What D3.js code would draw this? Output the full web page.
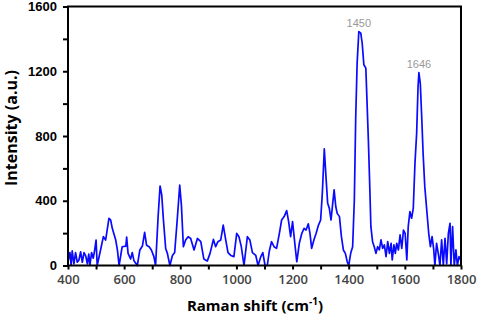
<!DOCTYPE html>
<head>
    <meta charset="utf-8">
    <script src="https://d3js.org/d3.v7.min.js"></script>
    <style>
        body { margin: 0; background: #fff; }
    </style>
</head>

<body>
    <div id="raman"></div>
</body>

<script>
    // Raman shift (cm-1)
    const shift = [401, 407, 411, 415, 421, 427, 433, 439, 445, 451, 457, 463, 469, 474, 478, 484, 490, 495, 500, 504,
        516, 526, 534, 546, 552, 558, 570, 576, 582, 593, 606, 609, 614, 623, 629, 635, 647, 656, 665, 673,
        680, 689, 697, 706, 712, 721, 728, 734, 740, 748, 754, 763, 772, 780, 789, 798, 804, 811, 819, 828,
        837, 849, 861, 873, 884, 896, 906, 918, 926, 934, 944, 953, 962, 970, 980, 991, 1001, 1009, 1017, 1027,
        1039, 1048, 1057, 1069, 1077, 1087, 1094, 1102, 1110, 1117, 1125, 1134, 1143, 1153, 1161, 1170, 1179, 1186, 1193, 1200,
        1208, 1215, 1224, 1233, 1241, 1248, 1256, 1262, 1268, 1276, 1284, 1292, 1300, 1306, 1313, 1319, 1325, 1331, 1337, 1343,
        1348, 1354, 1359, 1367, 1374, 1381, 1388, 1395, 1400, 1407, 1414, 1420, 1425, 1430, 1436, 1443, 1448, 1454, 1461, 1465,
        1470, 1475, 1479, 1485, 1491, 1497, 1503, 1509, 1515, 1521, 1527, 1533, 1539, 1545, 1551, 1555, 1561, 1566, 1571, 1577,
        1583, 1589, 1595, 1601, 1607, 1612, 1618, 1624, 1630, 1636, 1642, 1647, 1650, 1655, 1660, 1665, 1671, 1678, 1685, 1691,
        1697, 1703, 1707, 1713, 1719, 1725, 1731, 1737, 1743, 1749, 1755, 1761, 1764, 1770, 1776, 1782, 1787, 1793, 1799];

    // Intensity (a.u.)
    const intensity = [34, 80, 0, 90, 10, 80, 20, 34, 85, 20, 80, 60, 10, 70, 0, 80, 45, 95, 157, 0,
        96, 178, 157, 292, 280, 228, 157, 96, 0, 116, 120, 175, 75, 40, 80, 30, 0, 96, 120, 205,
        125, 116, 96, 55, 0, 302, 491, 435, 280, 105, 75, 0, 62, 80, 280, 496, 373, 116, 157, 178,
        167, 96, 167, 147, 40, 27, 75, 161, 116, 147, 157, 250, 157, 80, 62, 55, 198, 178, 120, 0,
        178, 157, 80, 62, 0, 55, 80, 0, 0, 88, 147, 116, 106, 199, 281, 302, 339, 271, 178, 271,
        137, 23, 137, 199, 230, 219, 257, 199, 106, 158, 199, 248, 281, 446, 720, 549, 384, 353, 281, 384,
        467, 363, 322, 302, 178, 96, 75, 22, 0, 75, 116, 405, 920, 1250, 1445, 1435, 1373, 1240, 1219, 1023,
        776, 487, 240, 147, 116, 75, 116, 96, 158, 106, 127, 55, 147, 75, 137, 34, 127, 75, 137, 96,
        189, 106, 219, 199, 34, 240, 333, 292, 353, 631, 817, 1105, 1191, 1125, 920, 693, 487, 343, 199, 116,
        178, 96, 0, 137, 75, 0, 158, 0, 168, 10, 199, 261, 0, 240, 0, 96, 0, 55, 34];

    // peak labels: text, position of the apex
    const peakLabels = ["1450", "1646"];
    const peakShift = [1436, 1650];
    const peakValue = [1445, 1191];

    const xTicks = d3.range(400, 1801, 100);
    const yTicks = d3.range(0, 1601, 200);

    const W = 477, H = 314;
    const margin = {top: 6.5, right: 16, bottom: 48.5, left: 68};

    const data = shift.map((s, i) => ({x: s, y: intensity[i]}));

    const svg = d3.select("#raman")
        .append("svg")
        .attr("width", W)
        .attr("height", H);

    const x = d3.scaleLinear()
        .domain([400, 1800])
        .range([margin.left, W - margin.right]);

    const y = d3.scaleLinear()
        .domain([0, 1600])
        .range([H - margin.bottom, margin.top]);

    // X axis
    const xAxis = svg.append("g")
        .attr("transform", `translate(0, ${H - margin.bottom})`)
        .call(d3.axisBottom(x)
            .tickValues(xTicks)
            .tickSize(4)
            .tickSizeOuter(0)
            .tickPadding(5)
            .tickFormat(d => d % 200 === 0 ? d : ""));
    xAxis.select(".domain").remove();
    xAxis.selectAll(".tick line").attr("stroke", "#000").attr("stroke-width", 2);
    xAxis.selectAll(".tick text")
        .style("font-family", "'Open Sans', sans-serif")
        .style("font-size", "13px")
        .style("font-weight", "600")
        .attr("fill", "#444");

    // Y axis
    const yAxis = svg.append("g")
        .attr("transform", `translate(${margin.left}, 0)`)
        .call(d3.axisLeft(y)
            .tickValues(yTicks)
            .tickSize(5)
            .tickSizeOuter(0)
            .tickPadding(6)
            .tickFormat(d => d % 400 === 0 ? d : ""));
    yAxis.select(".domain").remove();
    yAxis.selectAll(".tick line").attr("stroke", "#000").attr("stroke-width", 2);
    yAxis.selectAll(".tick text")
        .style("font-family", "'Liberation Sans', Arial, sans-serif")
        .style("font-size", "13px")
        .style("font-weight", "bold")
        .attr("fill", "#000");

    // Spectrum
    svg.append("path")
        .datum(data)
        .attr("fill", "none")
        .attr("stroke", "#0a0aff")
        .attr("stroke-width", 1.7)
        .attr("stroke-linejoin", "round")
        .attr("d", d3.line()
            .x(d => x(d.x))
            .y(d => y(d.y)));

    // Frame
    svg.append("rect")
        .attr("x", margin.left)
        .attr("y", margin.top)
        .attr("width", W - margin.left - margin.right)
        .attr("height", H - margin.top - margin.bottom)
        .attr("fill", "none")
        .attr("stroke", "#000")
        .attr("stroke-width", 2);

    // Peak labels
    svg.selectAll(".peak")
        .data(peakLabels)
        .enter()
        .append("text")
        .attr("class", "peak")
        .attr("x", (d, i) => x(peakShift[i]))
        .attr("y", (d, i) => y(peakValue[i]) - 5)
        .attr("text-anchor", "middle")
        .style("font-family", "'Liberation Sans', Arial, sans-serif")
        .style("font-size", "11px")
        .attr("fill", "#999")
        .text(d => d);

    // Axis titles
    const xTitle = svg.append("text")
        .attr("x", 255)
        .attr("y", 311)
        .attr("text-anchor", "middle")
        .style("font-family", "'Open Sans', sans-serif")
        .style("font-size", "15px")
        .style("font-weight", "bold")
        .attr("fill", "#000");
    xTitle.append("tspan").text("Raman shift (cm");
    xTitle.append("tspan").attr("dy", -6).style("font-size", "10px").text("-1");
    xTitle.append("tspan").attr("dy", 6).text(")");

    svg.append("text")
        .attr("transform", "translate(17, 128) rotate(-90)")
        .attr("text-anchor", "middle")
        .style("font-family", "'Open Sans', sans-serif")
        .style("font-size", "16px")
        .style("font-weight", "bold")
        .attr("fill", "#000")
        .text("Intensity (a.u.)");
</script>
</html>
